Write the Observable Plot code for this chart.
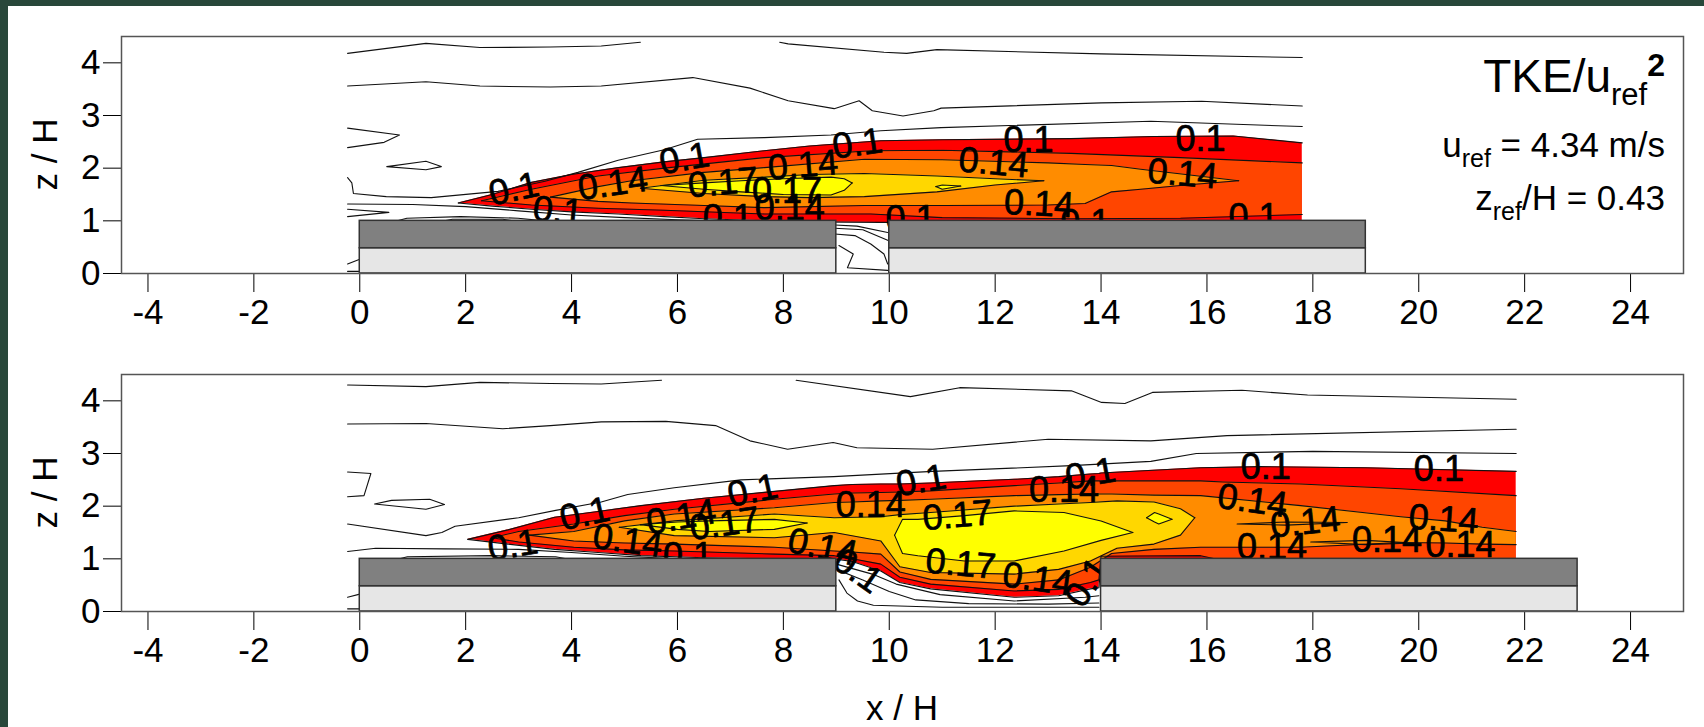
<!DOCTYPE html>
<html><head><meta charset="utf-8">
<script src="https://cdn.jsdelivr.net/npm/d3@7"></script>
<script src="https://cdn.jsdelivr.net/npm/@observablehq/plot@0.6"></script>
<style>
body{margin:0;background:#fff;width:1704px;height:727px;overflow:hidden;position:relative;font-family:"Liberation Sans",Arial,sans-serif;}
#top,#bottom{position:absolute;left:0;}
#top{top:0px}#bottom{top:340px}
.bl{position:absolute;left:0;top:0;width:8px;height:727px;background:#28473a}
.bt{position:absolute;left:0;top:0;width:1704px;height:6px;background:#28473a}
</style></head><body>
<div id="top"></div><div id="bottom"></div><div class="bl"></div><div class="bt"></div>
<script>
// ---------- axes ----------
const xTicks = [-4,-2,0,2,4,6,8,10,12,14,16,18,20,22,24];
const zTicks = [0,1,2,3,4];

// ---------- buildings: [x start, x end] ----------
const topBuildings = [[0,9],[10,19]];
const botBuildings = [[0,9],[14,23]];
const buildingLayers = [[0,0.48],[0.48,1]];

// ---------- filled TKE bands: [x, z low, z high] ----------
// top panel
const topRed = [[1.86,1.34,1.34],[2.5,1.28,1.5],[3.24,1.22,1.73],[4.0,1.17,1.88],[4.88,1.13,2.01],[5.75,1.08,2.12],[6.5,1.04,2.2],[7.64,1.0,2.33],[8.5,0.98,2.42],[9.84,0.97,2.52],[11.0,0.97,2.54],[13.43,0.97,2.56],[15.0,0.97,2.6],[16.5,0.97,2.61],[17.8,0.97,2.48]];
const topOrangeRed = [[2.3,1.38,1.38],[3.24,1.3,1.6],[4.5,1.24,1.85],[5.75,1.2,2.0],[7.64,1.13,2.2],[9.65,1.13,2.33],[11.0,1.06,2.34],[13.43,1.04,2.28],[15.5,1.05,2.2],[17.8,1.12,2.1]];
const topOrange = [[3.6,1.45,1.45],[4.5,1.37,1.65],[5.13,1.34,1.76],[6.5,1.29,1.92],[7.64,1.25,2.01],[9.53,1.29,2.17],[11.0,1.29,2.16],[13.0,1.3,2.1],[13.7,1.33,2.07],[14.2,1.55,2.05],[14.75,1.6,1.98],[15.6,1.68,1.88],[16.6,1.76,1.76]];
const topGold = [[5.3,1.62,1.62],[6.5,1.52,1.77],[7.64,1.46,1.83],[8.5,1.44,1.88],[9.53,1.46,1.9],[10.9,1.55,1.85],[12.0,1.68,1.8],[12.92,1.76,1.76]];
const topYellow = [[5.69,1.67,1.67],[6.5,1.6,1.72],[7.2,1.55,1.76],[8.0,1.5,1.8],[8.9,1.49,1.83],[9.15,1.58,1.8],[9.3,1.72,1.72]];
const topYellowIsland = [[10.88,1.65,1.65],[11.0,1.6,1.68],[11.35,1.66,1.66]];
// bottom panel
const botRed = [[2.04,1.37,1.37],[2.8,1.28,1.55],[3.68,1.18,1.79],[4.5,1.12,1.9],[5.31,1.06,2.01],[6.5,1.02,2.15],[7.83,1.0,2.28],[8.96,1.0,2.39],[9.3,0.95,2.41],[9.84,0.77,2.42],[10.2,0.55,2.42],[10.78,0.43,2.44],[12.36,0.27,2.51],[13.2,0.3,2.56],[13.8,0.43,2.61],[13.96,0.45,2.62],[14.0,0.97,2.63],[15.88,0.97,2.73],[17.0,0.97,2.75],[19.0,0.97,2.73],[21.84,0.97,2.66]];
const botOrangeRed = [[2.5,1.4,1.4],[3.0,1.32,1.52],[4.04,1.22,1.66],[5.0,1.17,1.82],[5.94,1.15,1.94],[7.83,1.09,2.13],[8.96,1.06,2.23],[9.3,1.0,2.25],[9.84,0.9,2.26],[10.2,0.65,2.27],[10.78,0.52,2.29],[12.36,0.39,2.39],[13.2,0.42,2.44],[13.8,0.55,2.48],[13.96,0.6,2.48],[14.0,1.05,2.48],[15.88,1.06,2.48],[16.3,0.97,2.46],[17.77,0.97,2.42],[19.66,0.97,2.33],[21.84,0.97,2.2]];
const botOrange = [[3.2,1.45,1.45],[4.04,1.34,1.52],[5.0,1.3,1.72],[5.94,1.28,1.85],[7.83,1.22,1.97],[8.96,1.15,2.07],[9.3,1.13,2.08],[9.84,1.09,2.1],[10.2,0.75,2.11],[10.78,0.61,2.13],[12.36,0.52,2.2],[13.2,0.6,2.22],[13.8,0.84,2.23],[14.2,1.1,2.23],[15.0,1.18,2.21],[15.88,1.22,2.2],[17.77,1.22,2.01],[19.66,1.31,1.8],[20.5,1.3,1.72],[21.2,1.28,1.6],[21.84,1.27,1.52]];
const botGold = [[4.9,1.6,1.6],[5.94,1.44,1.72],[7.83,1.4,1.85],[8.96,1.5,1.78],[9.84,1.34,1.8],[10.2,0.85,1.84],[10.78,0.74,1.88],[12.36,0.71,2.0],[13.2,0.8,2.04],[13.8,0.96,2.07],[14.3,1.2,2.1],[15.0,1.28,2.08],[15.5,1.45,1.95],[15.77,1.78,1.78]];
const botYellow = [[5.3,1.65,1.65],[6.0,1.56,1.7],[6.6,1.52,1.72],[7.83,1.56,1.75],[8.45,1.68,1.68]];
const botYellowCore = [[10.1,1.45,1.45],[10.25,1.1,1.75],[10.54,1.06,1.75],[11.42,0.96,1.82],[12.36,0.96,1.91],[13.3,1.15,1.88],[14.0,1.35,1.72],[14.6,1.5,1.5]];
const botYellowIsland = [[14.86,1.78,1.78],[15.01,1.7,1.88],[15.09,1.66,1.85],[15.34,1.75,1.75]];

// ---------- unfilled contour lines: [x, z] ----------
const topLines = [
  [[-0.23,4.18],[1.25,4.37],[2.27,4.29],[3.6,4.3],[4.56,4.32],[5.3,4.39]],
  [[7.93,4.39],[8.09,4.36],[9.9,4.2],[10.33,4.18],[10.9,4.25],[14.0,4.17],[17.8,4.1]],
  [[-0.23,3.56],[1.25,3.64],[2.27,3.56],[3.6,3.54],[4.56,3.56],[6.29,3.72],[7.37,3.52],[8.09,3.28],[8.96,3.13],[9.43,3.28],[9.68,3.09],[10.26,2.99],[10.84,3.09],[10.98,3.14],[14.0,3.24],[15.9,3.27],[17.8,3.18]],
  [[-0.23,2.76],[0.75,2.63],[0.46,2.49],[-0.23,2.39]],
  [[0.51,2.03],[1.25,2.13],[1.54,2.03],[1.25,1.97],[0.51,2.03]],
  [[-0.23,1.82],[-0.15,1.72],[-0.12,1.52],[0.5,1.46],[1.35,1.44],[2.61,1.56],[3.5,1.75],[4.12,1.92],[4.88,2.15],[5.75,2.35],[6.38,2.55],[7.64,2.58],[8.9,2.63],[9.84,2.71],[10.98,2.77],[14.94,2.89],[17.8,2.79]],
  [[-0.23,1.32],[1,1.31],[2,1.27],[3,1.19],[4,1.11],[5,1.06],[6,1.02],[6.6,1.0]],
  [[-0.23,1.22],[0.55,1.16],[-0.23,1.08]],
  [[0.71,1.0],[0.89,1.05],[1.9,1.08],[2.99,1.05],[3.49,1.0]],
  [[1.6,1.0],[1.75,1.03],[2.7,1.03],[2.9,1.0]],
  [[-0.23,0.18],[0.0,0.27]],
  [[-0.23,0.04],[0.0,0.04]],
  [[8.97,0.92],[9.39,0.9],[9.97,0.78]],
  [[8.97,0.86],[9.5,0.83],[9.97,0.63]],
  [[8.97,0.75],[9.35,0.72],[9.65,0.56],[9.9,0.37],[9.97,0.18]],
  [[9.05,0.53],[9.32,0.37],[9.21,0.11],[9.97,0.06]]
];
const botLines = [
  [[-0.23,4.3],[1.25,4.27],[2.27,4.35],[3.6,4.33],[4.56,4.32],[5.7,4.39]],
  [[8.24,4.39],[10.4,4.08],[11.33,4.25],[13.44,4.19],[14.01,3.97],[14.45,3.95],[14.97,4.16],[16.66,4.2],[17.9,4.11],[21.84,4.03]],
  [[-0.23,3.56],[1.25,3.57],[2.7,3.47],[3.6,3.53],[4.56,3.6],[5.78,3.61],[6.72,3.53],[7.37,3.24],[8.08,3.08],[8.94,3.21],[9.39,3.11],[10.82,3.08],[13.0,3.27],[14.94,3.24],[16.38,3.34],[21.84,3.46]],
  [[-0.23,2.65],[0.21,2.62],[0.08,2.2],[-0.23,2.18]],
  [[0.28,2.04],[0.6,2.11],[1.32,2.13],[1.6,2.03],[1.25,1.94],[0.28,2.04]],
  [[-0.23,1.66],[1.25,1.44],[1.55,1.5],[1.8,1.62],[3.0,1.78],[3.7,1.92],[4.56,2.08],[5.06,2.22],[5.94,2.35],[7.2,2.5],[8.95,2.56],[10.82,2.66],[13.44,2.77],[14.94,2.85],[15.8,3.0],[18,3.04],[21.84,3.0]],
  [[-0.23,1.14],[0.3,1.2],[1.6,1.19],[3,1.18],[4,1.12],[5,1.05],[6,1.0]],
  [[0.75,1.0],[0.9,1.04],[2.5,1.06],[3.7,1.04],[3.9,1.0]],
  [[-0.23,0.27],[0.0,0.33]],
  [[-0.23,0.05],[0.0,0.05]],
  [[9.0,0.9],[9.68,0.71],[10.13,0.52],[10.96,0.32],[12.36,0.2],[13.7,0.27],[13.96,0.3]],
  [[9.0,0.8],[9.5,0.6],[10.0,0.38],[10.5,0.22],[11.5,0.15],[13.0,0.14],[13.96,0.16]],
  [[9.05,0.6],[9.2,0.35],[9.4,0.2],[9.7,0.12],[11.0,0.08],[13.96,0.08]],
  [[16.57,1.66],[17.5,1.7],[18.65,1.69],[17.5,1.64],[16.57,1.66]],
  [[17.96,1.32],[19,1.35],[19.9,1.3],[19,1.27],[17.96,1.32]]
];

// ---------- contour labels: [x, z, text, angle] ----------
const topLabels = [
  [2.91,1.6,"0.1",-12],[4.78,1.7,"0.14",-8],[6.13,2.18,"0.1",-10],[6.86,1.72,"0.17",-5],
  [8.07,1.56,"0.17",0],[8.12,1.24,"0.14",0],[8.37,2.05,"0.14",-5],[9.4,2.46,"0.1",-8],
  [3.74,1.19,"0.1",5],[6.95,1.05,"0.1",0],[12.63,2.52,"0.1",0],[11.97,2.1,"0.14",5],
  [15.54,1.89,"0.14",5],[15.88,2.55,"0.1",0],[12.83,1.32,"0.14",3],[10.4,1.02,"0.1",0],
  [16.88,1.06,"0.1",0],[13.7,0.95,"0.1",0]
];
const botLabels = [
  [2.89,1.25,"0.1",-10],[4.25,1.85,"0.1",-12],[5.06,1.34,"0.14",8],[6.07,1.79,"0.14",-10],
  [6.89,1.66,"0.17",-8],[6.2,1.05,"0.1",0],[7.42,2.29,"0.1",-12],[8.74,1.22,"0.14",12],
  [10.6,2.48,"0.1",-10],[9.65,2.01,"0.14",0],[11.29,1.82,"0.17",-5],[11.35,0.9,"0.17",5],
  [12.8,0.61,"0.14",8],[9.4,0.77,"0.1",35],[13.74,0.55,"0.1",-55],[13.3,2.29,"0.14",0],
  [13.8,2.61,"0.1",-10],[17.11,2.73,"0.1",0],[20.38,2.7,"0.1",0],[16.86,2.1,"0.14",8],
  [17.86,1.69,"0.14",-6],[17.23,1.22,"0.14",0],[20.47,1.75,"0.14",4],[19.4,1.34,"0.14",0],
  [20.79,1.25,"0.14",0]
];

const bandColors = ["#ff0000","#ff4500","#ff8c00","#ffd700","#ffff00","#ffff00","#ffff00"];
const FONT = "Liberation Sans, Arial, sans-serif";

function panel(o) {
  const marks = [];
  o.bands.forEach((rows, i) => marks.push(Plot.area(rows, {x1: d => d[0], y1: d => d[1], y2: d => d[2], fill: bandColors[i], curve: "linear"})));
  o.bands.forEach(rows => {
    marks.push(Plot.line(rows, {x: d => d[0], y: d => d[1], stroke: "#111", strokeWidth: 1.1}));
    marks.push(Plot.line(rows, {x: d => d[0], y: d => d[2], stroke: "#111", strokeWidth: 1.1}));
  });
  o.lines.forEach(l => marks.push(Plot.line(l, {x: d => d[0], y: d => d[1], stroke: "#111", strokeWidth: 1.1})));
  marks.push(Plot.text(o.labels, {x: d => d[0], y: d => d[1], text: d => d[2], rotate: d => d[3], fontSize: 36, fill: "#000", stroke: "#000", strokeWidth: 0.7, textAnchor: "middle", lineAnchor: "middle"}));
  buildingLayers.forEach((layer, i) => marks.push(Plot.rect(o.buildings, {x1: d => d[0], x2: d => d[1], y1: () => layer[0], y2: () => layer[1], fill: i === 0 ? "#e6e6e6" : "#808080", stroke: "#333", strokeWidth: 1.5})));
  marks.push(Plot.frame({stroke: "#555", strokeWidth: 1.5}));
  return Plot.plot({
    width: 1704, height: o.height, marginLeft: 121, marginRight: 21, marginTop: o.marginTop, marginBottom: o.marginBottom,
    style: {fontFamily: FONT, fontSize: "35px", background: "transparent", color: "#000", overflow: "visible"},
    x: {domain: [-4.5, 25], ticks: xTicks, tickSize: 19, tickPadding: 7, tickFormat: d => String(d), label: null},
    y: {domain: [0, 4.5], ticks: zTicks, tickSize: 18, tickPadding: 3, tickFormat: d => String(d), label: null},
    marks
  });
}

const topSvg = panel({bands: [topRed, topOrangeRed, topOrange, topGold, topYellow, topYellowIsland], lines: topLines, labels: topLabels, buildings: topBuildings, height: 340, marginTop: 36, marginBottom: 67});
const botSvg = panel({bands: [botRed, botOrangeRed, botOrange, botGold, botYellow, botYellowCore, botYellowIsland], lines: botLines, labels: botLabels, buildings: botBuildings, height: 387, marginTop: 34, marginBottom: 116});
document.getElementById("top").appendChild(topSvg);
document.getElementById("bottom").appendChild(botSvg);

function yLabel(svg, cy) {
  d3.select(svg).append("text").attr("transform", `translate(57,${cy}) rotate(-90)`)
    .attr("text-anchor", "middle").attr("font-size", 35).attr("font-family", FONT).attr("fill", "#000").text("z / H");
}
yLabel(topSvg, 154.5);
yLabel(botSvg, 152.5);
d3.select(botSvg).append("text").attr("x", 902).attr("y", 380).attr("text-anchor", "middle")
  .attr("font-size", 35).attr("font-family", FONT).attr("fill", "#000").text("x / H");

const ann = d3.select(topSvg).append("g").attr("font-family", FONT).attr("fill", "#000").attr("text-anchor", "end");
const t1 = ann.append("text").attr("x", 1665).attr("y", 92).attr("font-size", 46);
t1.append("tspan").text("TKE/u");
t1.append("tspan").attr("font-size", 31).attr("dy", 13).text("ref");
t1.append("tspan").attr("font-size", 32).attr("font-weight", "bold").attr("dy", -29).text("2");
const t2 = ann.append("text").attr("x", 1665).attr("y", 157).attr("font-size", 35);
t2.append("tspan").text("u");
t2.append("tspan").attr("font-size", 25).attr("dy", 10).text("ref");
t2.append("tspan").attr("dy", -10).text(" = 4.34 m/s");
const t3 = ann.append("text").attr("x", 1665).attr("y", 210).attr("font-size", 35);
t3.append("tspan").text("z");
t3.append("tspan").attr("font-size", 25).attr("dy", 10).text("ref");
t3.append("tspan").attr("dy", -10).text("/H = 0.43");
</script></body></html>
